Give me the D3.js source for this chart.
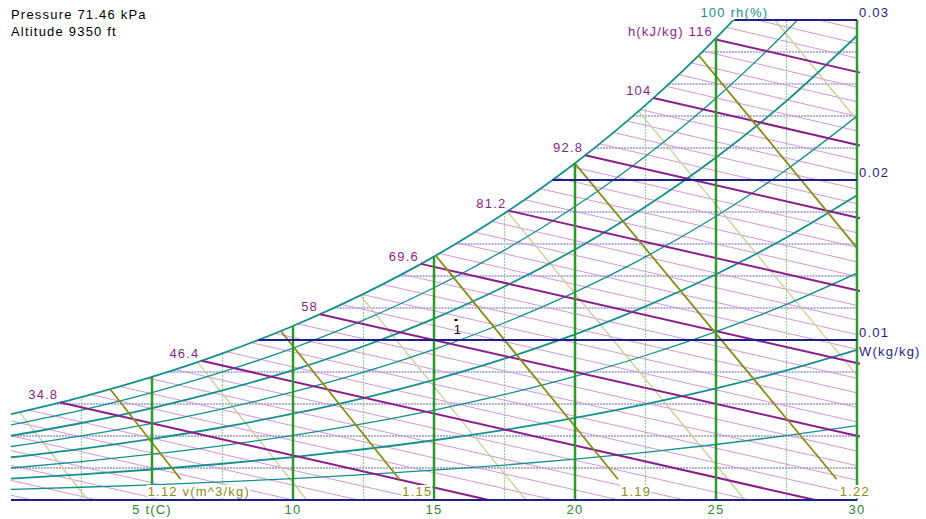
<!DOCTYPE html>
<html>
<head>
<meta charset="utf-8">
<script src="https://cdn.jsdelivr.net/npm/d3@7"></script>
<style>
  body { margin: 0; background: #fff; }
  svg text { font-family: "Liberation Sans", Arial, sans-serif; font-size: 13px; letter-spacing: 1.2px; }
</style>
</head>
<body>
<svg id="chart" width="926" height="519"></svg>
<script>
// header text
var headerLines = ["Pressure 71.46 kPa", "Altitude 9350 ft"];

// dry bulb temperature (C)
var tTicks = [5, 10, 15, 20, 25, 30];
var tLines = [2.5, 5, 7.5, 10, 12.5, 15, 17.5, 20, 22.5, 25, 27.5, 30];

// humidity ratio (kg/kg)
var wTicks = [0.01, 0.02, 0.03];
var wLines = [0.002, 0.004, 0.006, 0.008, 0.010, 0.012, 0.014, 0.016, 0.018, 0.020, 0.022, 0.024, 0.026, 0.028, 0.030];
var wLineStartT = [0, 0, 1.52, 5.55, 8.77, 11.44, 13.74, 15.76, 17.57, 19.20, 20.68, 22.06, 23.32, 24.50, 25.65];

// relative humidity curves, W read at each temperature
var rhTemps = [0, 2.5, 5, 7.5, 10, 12.5, 15, 17.5, 20, 22.5, 25, 27.5, 30];
var rhLevels = [12.5, 25, 37.5, 50, 62.5, 75, 87.5, 100];
var rhW = [
  [0.000666, 0.000797, 0.000951, 0.001131, 0.001339, 0.001581, 0.001861, 0.002184, 0.002556, 0.002981, 0.003468, 0.004022, 0.004655],
  [0.001333, 0.001596, 0.001905, 0.002265, 0.002684, 0.003171, 0.003734, 0.004384, 0.005132, 0.005992, 0.006975, 0.008097, 0.009380],
  [0.002001, 0.002397, 0.002861, 0.003404, 0.004035, 0.004768, 0.005618, 0.006599, 0.007730, 0.009031, 0.010521, 0.012226, 0.014177],
  [0.002671, 0.003200, 0.003821, 0.004547, 0.005392, 0.006374, 0.007513, 0.008830, 0.010350, 0.012100, 0.014108, 0.016408, 0.019048],
  [0.003343, 0.004006, 0.004784, 0.005695, 0.006754, 0.007988, 0.009420, 0.011077, 0.012991, 0.015199, 0.017735, 0.020646, 0.023994],
  [0.004016, 0.004813, 0.005749, 0.006846, 0.008123, 0.009610, 0.011338, 0.013340, 0.015655, 0.018328, 0.021404, 0.024942, 0.029017],
  [0.004690, 0.005622, 0.006718, 0.008002, 0.009497, 0.011241, 0.013268, 0.015620, 0.018341, 0.021488, 0.025116, 0.029294, 0.034118],
  [0.005366, 0.006434, 0.007689, 0.009162, 0.010877, 0.012880, 0.015210, 0.017915, 0.021050, 0.024680, 0.028870, 0.033706, 0.039300]
];

// enthalpy lines (level, t1, W1, t2, W2)
var enthalpyLevels = [8, 9, 10, 11, 12, 13, 14, 15, 16, 17, 18, 19, 20, 21, 22, 23, 24, 25, 26, 27, 28, 29, 30,
  31, 32, 33, 34, 35, 36, 37, 38, 39, 40, 41, 42, 43, 44, 45, 46, 47, 48, 49, 50, 51, 52, 53];
var enthalpyEnds = [
  [0, 0.000298, 0.741, 0], [0, 0.001228, 3.056, 0], [0, 0.002158, 5.370, 0], [0, 0.003088, 7.685, 0],
  [0, 0.004018, 10.0, 0], [0, 0.004948, 12.315, 0], [0.629, 0.005622, 14.630, 0], [1.749, 0.006097, 16.944, 0],
  [2.826, 0.006588, 19.259, 0], [3.865, 0.007095, 21.574, 0], [4.863, 0.007617, 23.889, 0], [5.826, 0.008152, 26.204, 0],
  [6.755, 0.008701, 28.519, 0], [7.652, 0.009261, 30, 0.000328], [8.520, 0.009833, 30, 0.001237], [9.359, 0.010415, 30, 0.002147],
  [10.172, 0.011009, 30, 0.003057], [10.959, 0.011611, 30, 0.003967], [11.717, 0.012225, 30, 0.004876], [12.453, 0.012846, 30, 0.005786],
  [13.170, 0.013475, 30, 0.006696], [13.865, 0.014112, 30, 0.007606], [14.537, 0.014759, 30, 0.008515], [15.194, 0.015411, 30, 0.009425],
  [15.830, 0.016069, 30, 0.010335], [16.447, 0.016735, 30, 0.011245], [17.055, 0.017406, 30, 0.012155], [17.638, 0.018085, 30, 0.013064],
  [18.212, 0.018768, 30, 0.013974], [18.770, 0.019457, 30, 0.014884], [19.313, 0.020151, 30, 0.015794], [19.845, 0.020847, 30, 0.016703],
  [20.362, 0.021552, 30, 0.017613], [20.871, 0.022259, 30, 0.018523], [21.362, 0.022970, 30, 0.019433], [21.848, 0.023685, 30, 0.020343],
  [22.319, 0.024406, 30, 0.021252], [22.783, 0.025130, 30, 0.022162], [23.235, 0.025856, 30, 0.023072], [23.678, 0.026588, 30, 0.023982],
  [24.115, 0.027321, 30, 0.024891], [24.537, 0.028060, 30, 0.025801], [24.959, 0.028798, 30, 0.026711], [25.363, 0.029543, 30, 0.027621],
  [26.457, 0.03, 30, 0.028530], [28.650, 0.03, 30, 0.029440]
];
var enthalpyLabelLevels = [15, 20, 25, 30, 35, 40, 45, 50];
var enthalpyLabelText = ["34.8", "46.4", "58", "69.6", "81.2", "92.8", "104", "116"];

// specific volume lines (level, t1, W1, t2, W2)
var volumeLevels = [17.75, 18, 18.25, 18.5, 18.75, 19, 19.25, 19.5, 19.75, 20, 20.25];
var volumeEnds = [
  [0.302, 0.005489, 2.716, 0], [3.519, 0.006925, 6.016, 0.0013], [6.610, 0.008614, 10.485, 0],
  [9.568, 0.010566, 13.771, 0.0013], [12.386, 0.012789, 18.257, 0], [15.062, 0.015274, 21.525, 0.0013],
  [17.596, 0.018036, 26.027, 0], [19.995, 0.021043, 29.281, 0.0013], [22.253, 0.024303, 30, 0.007788],
  [24.385, 0.027794, 30, 0.015761], [27.086, 0.03, 30, 0.023734]
];
var volumeLabelLevels = [18, 18.5, 19, 19.5];
var volumeLabelText = ["1.12", "1.15", "1.19", "1.22"];

// state point
var statePoints = [{ t: 15.78, w: 0.01125, label: "1" }];

var svg = d3.select("#chart");
var x = d3.scaleLinear().domain([0, 30]).range([11, 857]);
var y = d3.scaleLinear().domain([0, 0.03]).range([500, 20]);

svg.append("defs").append("clipPath").attr("id", "plot-clip")
  .append("rect")
  .attr("x", x(0)).attr("y", y(0.03))
  .attr("width", x(30) - x(0)).attr("height", y(0) - y(0.03));

var satW = rhW[rhW.length - 1];
function satTop(t) {
  var i = rhTemps.indexOf(t);
  return Math.min(satW[i], 0.03);
}

var colors = {
  wThin: "#b0b0e0", navy: "#1e1e8c",
  tThin: "#94d494", tThick: "#2b9a2b",
  hThin: "#d596d5", hThick: "#8c1e8c",
  vThin: "#cdcd96", vThick: "#8c8c14",
  rh: "#14908f"
};

var plot = svg.append("g");

// thin humidity ratio lines
plot.append("g").selectAll("line")
  .data(wLines.map((w, i) => ({ w: w, t0: wLineStartT[i] })).filter(d => wTicks.indexOf(d.w) < 0))
  .enter().append("line")
  .attr("x1", d => x(d.t0)).attr("x2", x(30))
  .attr("y1", d => y(d.w)).attr("y2", d => y(d.w))
  .attr("stroke", colors.wThin).attr("stroke-width", 2).attr("stroke-dasharray", "2,1");

// thin temperature lines
plot.append("g").selectAll("line")
  .data(tLines.filter(t => tTicks.indexOf(t) < 0))
  .enter().append("line")
  .attr("x1", d => x(d)).attr("x2", d => x(d))
  .attr("y1", y(0)).attr("y2", d => y(satTop(d)))
  .attr("stroke", colors.tThin).attr("stroke-width", 1.2).attr("stroke-dasharray", "2,1");

// enthalpy lines
var hData = enthalpyLevels.map((h, i) => ({ h: h, e: enthalpyEnds[i], thick: enthalpyLabelLevels.indexOf(h) >= 0 }));
plot.append("g").selectAll("line")
  .data(hData.filter(d => !d.thick))
  .enter().append("line")
  .attr("x1", d => x(d.e[0])).attr("y1", d => y(d.e[1]))
  .attr("x2", d => x(d.e[2])).attr("y2", d => y(d.e[3]))
  .attr("stroke", colors.hThin).attr("stroke-width", 1);

// volume lines
var vData = volumeLevels.map((v, i) => ({ v: v, e: volumeEnds[i], thick: v % 0.5 === 0 }));
plot.append("g").selectAll("line")
  .data(vData.filter(d => !d.thick))
  .enter().append("line")
  .attr("x1", d => x(d.e[0])).attr("y1", d => y(d.e[1]))
  .attr("x2", d => x(d.e[2])).attr("y2", d => y(d.e[3]))
  .attr("stroke", colors.vThin).attr("stroke-width", 1.3);

// relative humidity curves
var rhLine = d3.line()
  .x((d, i) => x(rhTemps[i]))
  .y(d => y(d))
  .curve(d3.curveMonotoneX);
plot.append("g").attr("clip-path", "url(#plot-clip)")
  .selectAll("path")
  .data(rhW)
  .enter().append("path")
  .attr("d", rhLine)
  .attr("fill", "none")
  .attr("stroke", colors.rh)
  .attr("stroke-width", (d, i) => rhLevels[i] % 25 === 0 ? 1.8 : 1.3);

plot.append("g").selectAll("line")
  .data(hData.filter(d => d.thick))
  .enter().append("line")
  .attr("x1", d => x(d.e[0])).attr("y1", d => y(d.e[1]))
  .attr("x2", d => x(d.e[2]) + (d.e[2] === 30 ? 3 : 0)).attr("y2", d => y(d.e[3]))
  .attr("stroke", colors.hThick).attr("stroke-width", 2);

plot.append("g").selectAll("line")
  .data(vData.filter(d => d.thick))
  .enter().append("line")
  .attr("x1", d => x(d.e[0])).attr("y1", d => y(d.e[1]))
  .attr("x2", d => x(d.e[2])).attr("y2", d => y(d.e[3]))
  .attr("stroke", colors.vThick).attr("stroke-width", 1.8);

// thick temperature lines
plot.append("g").selectAll("line")
  .data(tTicks)
  .enter().append("line")
  .attr("x1", d => x(d)).attr("x2", d => x(d))
  .attr("y1", y(0)).attr("y2", d => y(satTop(d)))
  .attr("stroke", colors.tThick).attr("stroke-width", 2.5);

// thick humidity ratio lines
plot.append("g").selectAll("line")
  .data(wLines.map((w, i) => ({ w: w, t0: wLineStartT[i] })).filter(d => wTicks.indexOf(d.w) >= 0))
  .enter().append("line")
  .attr("x1", d => x(d.t0)).attr("x2", x(30))
  .attr("y1", d => y(d.w)).attr("y2", d => y(d.w))
  .attr("stroke", colors.navy).attr("stroke-width", 2);

// state point
var sp = plot.append("g").selectAll("g").data(statePoints).enter().append("g");
sp.append("line")
  .attr("x1", d => x(d.t) - 1.5).attr("x2", d => x(d.t) + 1.5)
  .attr("y1", d => y(d.w)).attr("y2", d => y(d.w))
  .attr("stroke", "#000").attr("stroke-width", 2);
sp.append("text")
  .attr("x", d => x(d.t) + 2).attr("y", d => y(d.w) + 14)
  .attr("text-anchor", "middle").attr("fill", "#000")
  .text(d => d.label);

// labels
var labels = svg.append("g");

labels.selectAll(".hdr").data(headerLines).enter().append("text")
  .attr("x", 11).attr("y", (d, i) => 19 + i * 17)
  .attr("fill", "#000").text(d => d);

labels.selectAll(".tlab").data(tTicks).enter().append("text")
  .attr("x", d => x(d)).attr("y", 514)
  .attr("text-anchor", "middle").attr("fill", "#2a8a2a")
  .text((d, i) => i === 0 ? d + " t(C)" : d);

labels.selectAll(".wlab").data(wTicks).enter().append("text")
  .attr("x", x(30) + 2).attr("y", d => y(d) - 3)
  .attr("fill", colors.navy).text(d => d);
labels.append("text")
  .attr("x", x(30) + 2).attr("y", y(0.01) + 16)
  .attr("fill", colors.navy).text("W(kg/kg)");

labels.append("text")
  .attr("x", x(wLineStartT[wLineStartT.length - 1])).attr("y", y(0.03) - 3)
  .attr("text-anchor", "middle").attr("fill", colors.rh)
  .text(rhLevels[rhLevels.length - 1] + " rh(%)");

labels.selectAll(".hlab").data(enthalpyLabelLevels).enter().append("text")
  .attr("x", d => x(enthalpyEnds[enthalpyLevels.indexOf(d)][0]) - 2)
  .attr("y", d => y(enthalpyEnds[enthalpyLevels.indexOf(d)][1]) - 3)
  .attr("text-anchor", "end").attr("fill", colors.hThick)
  .text((d, i) => i === enthalpyLabelLevels.length - 1 ? "h(kJ/kg) " + enthalpyLabelText[i] : enthalpyLabelText[i]);

var vLab = labels.selectAll(".vlab").data(volumeLabelLevels).enter().append("g");
vLab.append("text")
  .attr("x", (d, i) => x(volumeEnds[volumeLevels.indexOf(d)][2]) + (i === 0 ? -33 : 3))
  .attr("y", 496)
  .attr("fill", colors.vThick)
  .text((d, i) => i === 0 ? volumeLabelText[i] + " v(m^3/kg)" : volumeLabelText[i]);
vLab.each(function() {
  var t = d3.select(this).select("text");
  var b = t.node().getBBox();
  d3.select(this).insert("rect", "text")
    .attr("x", b.x - 1).attr("y", b.y + 1)
    .attr("width", b.width + 1).attr("height", y(0) - 1.5 - (b.y + 1))
    .attr("fill", "#fff");
});

// bottom axis line drawn above the label boxes
svg.append("line")
  .attr("x1", x(0)).attr("x2", x(30))
  .attr("y1", y(0)).attr("y2", y(0))
  .attr("stroke", colors.navy).attr("stroke-width", 2);
</script>
</body>
</html>
